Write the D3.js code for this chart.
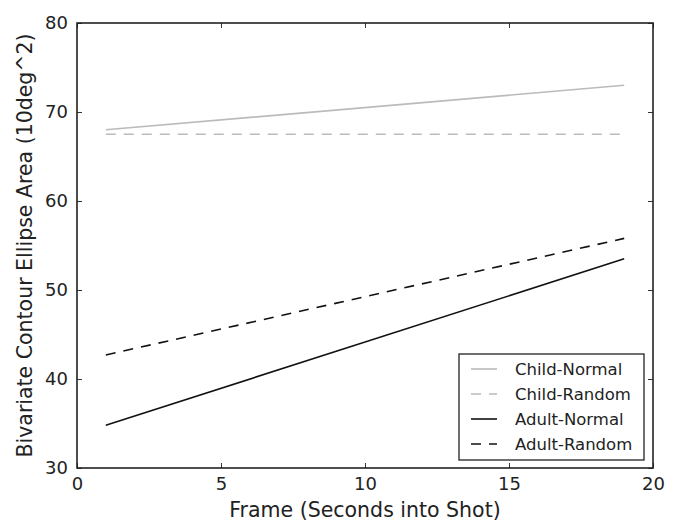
<!DOCTYPE html>
<html>
<head>
<meta charset="utf-8">
<script src="https://cdn.jsdelivr.net/npm/d3@7"></script>
<style>
  body { margin: 0; background: #fff; }
  svg text { font-family: "DejaVu Sans", sans-serif; fill: #222; }
</style>
</head>
<body>
<script>
// data
const seriesNames = ['Child-Normal', 'Child-Random', 'Adult-Normal', 'Adult-Random'];
const frames = [1, 19];
const childNormal = [68.0, 73.0];
const childRandom = [67.5, 67.5];
const adultNormal = [34.8, 53.5];
const adultRandom = [42.7, 55.8];
const xTicks = [0, 5, 10, 15, 20];
const yTicks = [30, 40, 50, 60, 70, 80];

const w = 679, h = 523;
const margin = { top: 23, right: 26, bottom: 55, left: 77 };

const svg = d3.select('body').append('svg')
  .attr('width', w)
  .attr('height', h);

const xScale = d3.scaleLinear().domain([0, 20]).range([margin.left, w - margin.right]);
const yScale = d3.scaleLinear().domain([30, 80]).range([h - margin.bottom, margin.top]);

const styles = [
  { color: '#bbbbbb', dash: null },
  { color: '#bbbbbb', dash: '10,8' },
  { color: '#111111', dash: null },
  { color: '#111111', dash: '10,8' }
];
const allSeries = [childNormal, childRandom, adultNormal, adultRandom];

//the lines
const line = d3.line()
  .x((d, i) => xScale(frames[i]))
  .y((d) => yScale(d));

allSeries.forEach((vals, k) => {
  svg.append('path')
    .datum(vals)
    .attr('d', line)
    .attr('fill', 'none')
    .attr('stroke', styles[k].color)
    .attr('stroke-width', 1.6)
    .attr('stroke-dasharray', styles[k].dash);
});

//axes with inward ticks on all four sides
const fs = '18px';
const bottomAxis = d3.axisBottom(xScale).tickValues(xTicks).tickSize(-5).tickPadding(9).tickSizeOuter(0);
const topAxis = d3.axisTop(xScale).tickValues(xTicks).tickSize(-5).tickFormat('').tickSizeOuter(0);
const leftAxis = d3.axisLeft(yScale).tickValues(yTicks).tickSize(-5).tickPadding(9).tickSizeOuter(0);
const rightAxis = d3.axisRight(yScale).tickValues(yTicks).tickSize(-5).tickFormat('').tickSizeOuter(0);

const gx = svg.append('g').attr('transform', `translate(0, ${h - margin.bottom})`).call(bottomAxis);
svg.append('g').attr('transform', `translate(0, ${margin.top})`).call(topAxis);
const gy = svg.append('g').attr('transform', `translate(${margin.left}, 0)`).call(leftAxis);
svg.append('g').attr('transform', `translate(${w - margin.right}, 0)`).call(rightAxis);

svg.selectAll('.domain').remove();
svg.selectAll('.tick line').attr('stroke', '#333').attr('stroke-width', 1);
gx.selectAll('text').style('font-size', fs).attr('fill', '#222');
gy.selectAll('text').style('font-size', fs).attr('fill', '#222');

//frame around plot
svg.append('rect')
  .attr('x', margin.left)
  .attr('y', margin.top)
  .attr('width', w - margin.left - margin.right)
  .attr('height', h - margin.top - margin.bottom)
  .attr('fill', 'none')
  .attr('stroke', '#222')
  .attr('stroke-width', 1.6);

//axis labels
svg.append('text')
  .attr('x', (margin.left + w - margin.right) / 2)
  .attr('y', 517)
  .attr('text-anchor', 'middle')
  .style('font-size', '20.5px')
  .text('Frame (Seconds into Shot)');

svg.append('text')
  .attr('transform', `translate(32, ${(margin.top + h - margin.bottom) / 2}) rotate(-90)`)
  .attr('text-anchor', 'middle')
  .style('font-size', '20.5px')
  .text('Bivariate Contour Ellipse Area (10deg^2)');

//legend
const lg = svg.append('g').attr('transform', 'translate(459, 354)');
lg.append('rect')
  .attr('width', 185)
  .attr('height', 106)
  .attr('fill', '#fff')
  .attr('stroke', '#222')
  .attr('stroke-width', 1.3);

seriesNames.forEach((name, k) => {
  const yy = 15 + k * 25;
  lg.append('line')
    .attr('x1', 12).attr('x2', 38)
    .attr('y1', yy).attr('y2', yy)
    .attr('stroke', styles[k].color)
    .attr('stroke-width', 1.6)
    .attr('stroke-dasharray', styles[k].dash);
  lg.append('text')
    .attr('x', 56)
    .attr('y', yy + 6)
    .style('font-size', '16.5px')
    .text(name);
});
</script>
</body>
</html>
